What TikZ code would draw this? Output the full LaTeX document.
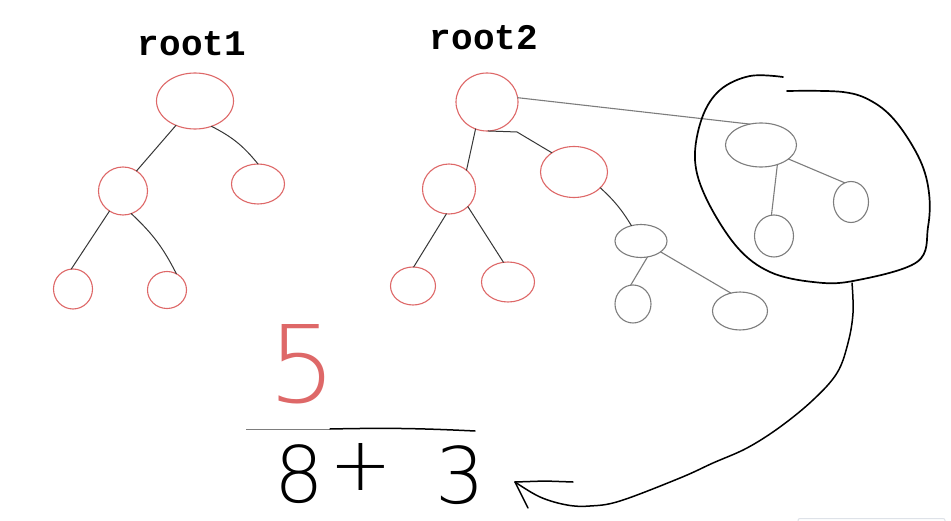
\documentclass[tikz,border=0pt]{standalone}
\usepackage{fontspec}
\usetikzlibrary{shapes.geometric}
\newfontfamily\titlefont{Liberation Mono}
\newfontfamily\handfont{DejaVu Sans ExtraLight}
\definecolor{redc}{RGB}{222,104,104}
\definecolor{grayc}{RGB}{125,125,125}
\definecolor{edgec}{RGB}{55,55,55}
\definecolor{faintc}{RGB}{222,226,232}
\begin{document}
\begin{tikzpicture}[x=1pt,y=-1pt,
  rblob/.style={ellipse, draw=redc, line width=1.1pt, inner sep=0pt, outer sep=0pt},
  gblob/.style={ellipse, draw=grayc, line width=1.1pt, inner sep=0pt, outer sep=0pt},
  edge/.style={draw=edgec, line width=1pt, line cap=round},
  gedge/.style={draw=grayc, line width=1.1pt, line cap=round},
  title/.style={font=\titlefont\bfseries\fontsize{36pt}{38pt}\selectfont, inner sep=0pt},
  hand/.style={font=\handfont\fontsize{78pt}{80pt}\selectfont, inner sep=0pt},
  loopline/.style={draw=black, line width=1.7pt, line cap=round, line join=round}
]
\fill[white] (0,0) rectangle (951,521);
\useasboundingbox (0,0) rectangle (951,521);

% titles
\node[title] (t1) at (192,44) {root1};
\node[title] (t2) at (484,38) {root2};

% tree 1
\node[rblob, minimum width=77pt, minimum height=56pt] (r1) at (195,101) {};
\node[rblob, minimum width=49pt, minimum height=48pt] (a1) at (123,191) {};
\node[rblob, minimum width=53pt, minimum height=40pt] (b1) at (258,184) {};
\node[rblob, minimum width=39pt, minimum height=40pt] (c1) at (73,289) {};
\node[rblob, minimum width=39pt, minimum height=37pt] (d1) at (167,290) {};

\draw[edge] (r1.-128) -- (a1.56);
\draw[edge] (r1.-57) to[bend left=12] (b1.90);
\draw[edge] (a1.-124) -- (c1.95);
\draw[edge] (a1.-70) to[bend left=10] (d1.60);

% tree 2
\node[rblob, minimum width=62pt, minimum height=58pt] (r2) at (487,102) {};
\node[rblob, minimum width=53pt, minimum height=50pt] (a2) at (449,189) {};
\node[rblob, minimum width=67pt, minimum height=51pt] (b2) at (574,172) {};
\node[rblob, minimum width=45pt, minimum height=38pt] (c2) at (413,286) {};
\node[rblob, minimum width=53pt, minimum height=40pt] (d2) at (508,282) {};
\node[gblob, minimum width=52pt, minimum height=33pt] (e2) at (641,241) {};
\node[gblob, minimum width=36pt, minimum height=38pt] (f2) at (633,304) {};
\node[gblob, minimum width=55pt, minimum height=38pt] (g2) at (740,311) {};

\draw[edge] (r2.-113) -- (a2.47);
\draw[edge] (r2.-88) -- ++(29,1) -- (b2.139);
\draw[edge] (a2.-96) -- (c2.88);
\draw[edge] (a2.-43) -- (d2.103);
\draw[edge] (b2.-31) to[bend left=8] (e2.122);
\draw[gedge] (e2.-68) -- (f2.97);
\draw[gedge] (e2.-29) -- (g2.117);

% circled subtree
\node[gblob, minimum width=71pt, minimum height=44pt] (s) at (761,145) {};
\node[gblob, minimum width=39pt, minimum height=42pt] (sl) at (774,236) {};
\node[gblob, minimum width=35pt, minimum height=41pt] (sr) at (851,202) {};

\draw[gedge] (s.-50) -- (sl.97);
\draw[gedge] (s.-27) -- (sr.108);
\draw[gedge] (r2.8) -- (s.118);

% loop around the subtree
\draw[loopline] plot[smooth, tension=0.6] coordinates {
  (783,77) (750,76) (720,90) (702,118) (695,160) (707,200) (737,247)
  (770,272) (813,282) (853,281) (917,262) (928,227) (929,193)
  (920,160) (897,123) (873,102) (843,92) (787,91)};

% tail to the sum
\coordinate (tailstart) at (852,283);
\coordinate (tailend) at (515,482);
\draw[loopline, line width=1.5pt] plot[smooth, tension=0.6] coordinates {
  (852,283) (853,313) (848,343) (837,373) (813,400) (780,427) (747,448)
  (713,463) (680,478) (620,501) (590,506) (567,505) (540,497) (515,482)};
\draw[loopline, line width=1.5pt] (tailend) -- (545,481) -- (573,482);
\draw[loopline, line width=1.5pt] (tailend) -- (528,508);

% fraction
\coordinate (fa) at (246,429);
\coordinate (fb) at (330,429);
\coordinate (fc) at (475,431);
\draw[draw=grayc, line width=0.9pt] (fa) -- (fb);
\draw[draw=black, line width=1.5pt, line cap=round] (fb) to[bend left=2] (fc);

\node[hand, text=redc, font=\handfont\fontsize{107pt}{110pt}\selectfont] (five) at (303,364) {5};
\node[hand] (eight) at (299,474) {8};
\node[hand, font=\handfont\fontsize{75pt}{78pt}\selectfont] (plus) at (361,467) {+};
\node[hand] (three) at (460,475) {3};

% faint line at the bottom edge
\draw[draw=faintc, line width=1pt, rounded corners=2pt] (798,522) -- (798,518.5) -- (945,518.5) -- (945,522);
\end{tikzpicture}
\end{document}
